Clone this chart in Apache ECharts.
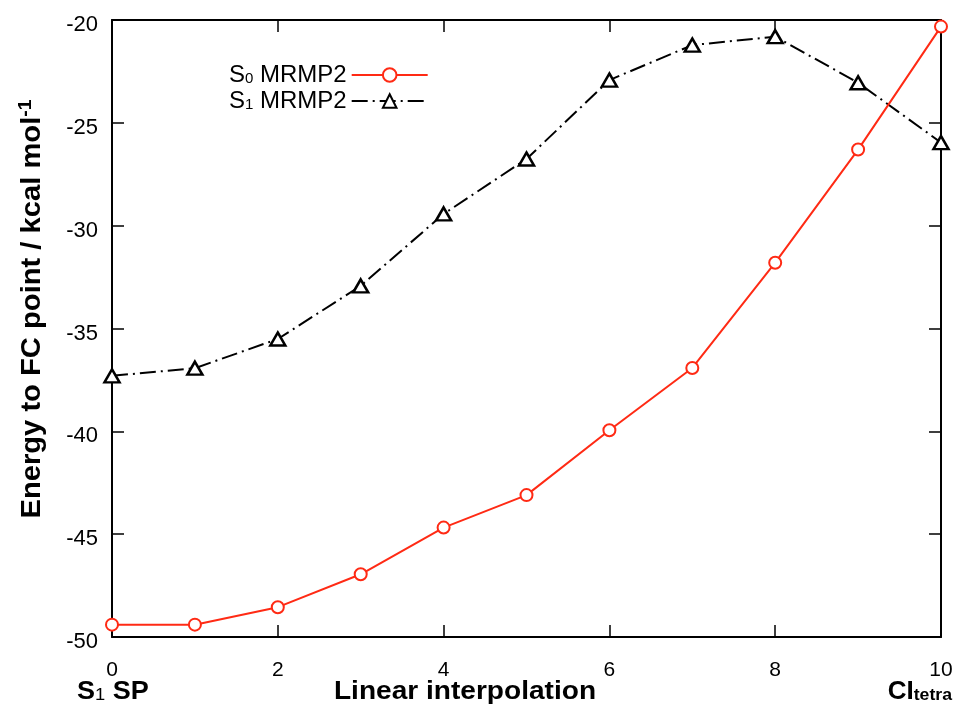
<!DOCTYPE html>
<html><head><meta charset="utf-8">
<script src="https://cdn.jsdelivr.net/npm/echarts@6/dist/echarts.min.js"></script>
<style>html,body{margin:0;padding:0;background:#fff}#c{width:959px;height:704px}</style>
</head><body><div id="c"></div>
<script>
const xValues = [0, 1, 2, 3, 4, 5, 6, 7, 8, 9, 10];
const s0Values = [-49.40, -49.40, -48.55, -46.95, -44.68, -43.10, -39.95, -36.92, -31.80, -26.30, -20.32];
const s1Values = [-37.30, -36.93, -35.51, -32.93, -29.43, -26.76, -22.92, -21.22, -20.81, -23.05, -25.96];
const seriesNames = ['S0 MRMP2', 'S1 MRMP2'];
const yTitle = 'Energy to FC point / kcal mol';
const xTitle = 'Linear interpolation';

const FONT = 'Liberation Sans';
const chart = echarts.init(document.getElementById('c'), null, {renderer: 'canvas'});
const pair = (vals) => xValues.map((x, i) => [x, vals[i]]);

const axisCommon = {
  min: 0, max: 10, interval: 2, type: 'value',
  axisLine: {show: true, onZero: false, lineStyle: {color: '#000', width: 2}},
  axisTick: {show: true, inside: true, length: 12, lineStyle: {color: '#000', width: 1.5}},
  splitLine: {show: false}
};
const yCommon = {
  min: -50, max: -20, interval: 5, type: 'value',
  axisLine: {show: true, onZero: false, lineStyle: {color: '#000', width: 2}},
  axisTick: {show: true, inside: true, length: 12, lineStyle: {color: '#000', width: 1.5}},
  splitLine: {show: false}
};

chart.setOption({
  animation: false,
  backgroundColor: '#fff',
  grid: {left: 112, right: 18, top: 20, bottom: 67, containLabel: false},
  xAxis: [
    Object.assign({}, axisCommon, {position: 'bottom',
      axisLabel: {show: true, margin: 23, color: '#000', fontSize: 21, fontFamily: FONT}}),
    Object.assign({}, axisCommon, {position: 'top', axisLabel: {show: false}})
  ],
  yAxis: [
    Object.assign({}, yCommon, {position: 'left',
      axisLabel: {show: true, margin: 14, color: '#000', fontSize: 22, fontFamily: FONT,
        verticalAlign: 'top', lineHeight: 10}}),
    Object.assign({}, yCommon, {position: 'right', axisLabel: {show: false}})
  ],
  legend: {
    orient: 'vertical', align: 'right', left: 224, top: 58,
    itemWidth: 76, itemHeight: 17, itemGap: 2,
    data: seriesNames,
    formatter: (n) => '{n|S}{s|' + n.charAt(1) + '}{n|' + n.slice(2) + '}',
    textStyle: {
      color: '#000', fontFamily: FONT, fontSize: 24,
      rich: {
        n: {fontSize: 24, fontFamily: FONT, color: '#000'},
        s: {fontSize: 15, fontFamily: FONT, color: '#000', padding: [7, 0, 0, 0]}
      }
    }
  },
  series: [
    {
      name: seriesNames[0], type: 'line', data: pair(s0Values),
      xAxisIndex: 0, yAxisIndex: 0, clip: false,
      symbol: 'circle', symbolSize: 12, showAllSymbol: true,
      lineStyle: {color: '#ff2a14', width: 2},
      itemStyle: {color: '#fff', borderColor: '#ff2a14', borderWidth: 2},
      z: 3
    },
    {
      name: seriesNames[1], type: 'line', data: pair(s1Values),
      xAxisIndex: 0, yAxisIndex: 0, clip: false,
      symbol: 'triangle', symbolSize: [15, 13], showAllSymbol: true,
      lineStyle: {color: '#000', width: 2, type: [16, 5, 2, 5]},
      itemStyle: {color: '#fff', borderColor: '#000', borderWidth: 2.5},
      z: 2
    }
  ],
  graphic: [
    {
      type: 'text', x: 33, y: 309, rotation: Math.PI / 2, scaleX: 1.08,
      style: {
        text: '{t|' + yTitle + '}{p|-1}',
        align: 'center', verticalAlign: 'middle',
        rich: {
          t: {fontSize: 27, fontWeight: 'bold', fontFamily: FONT, color: '#000'},
          p: {fontSize: 18, fontWeight: 'bold', fontFamily: FONT, color: '#000', padding: [0, 0, 14, 0]}
        }
      }
    },
    {
      type: 'text', x: 465, y: 692, scaleX: 1.08,
      style: {text: xTitle, align: 'center', verticalAlign: 'middle',
        font: 'bold 26px "Liberation Sans"', fill: '#000'}
    },
    {
      type: 'text', x: 77, y: 692, scaleX: 1.08,
      style: {
        text: '{b|S}{s|1}{b| SP}', align: 'left', verticalAlign: 'middle',
        rich: {
          b: {fontSize: 25, fontWeight: 'bold', fontFamily: FONT, color: '#000'},
          s: {fontSize: 17, fontFamily: FONT, color: '#000', padding: [7, 0, 0, 0]}
        }
      }
    },
    {
      type: 'text', x: 952, y: 692, scaleX: 1.04,
      style: {
        text: '{b|CI}{s|tetra}', align: 'right', verticalAlign: 'middle',
        rich: {
          b: {fontSize: 25, fontWeight: 'bold', fontFamily: FONT, color: '#000'},
          s: {fontSize: 17, fontWeight: 'bold', fontFamily: FONT, color: '#000', padding: [7, 0, 0, 0]}
        }
      }
    }
  ]
});
</script></body></html>
